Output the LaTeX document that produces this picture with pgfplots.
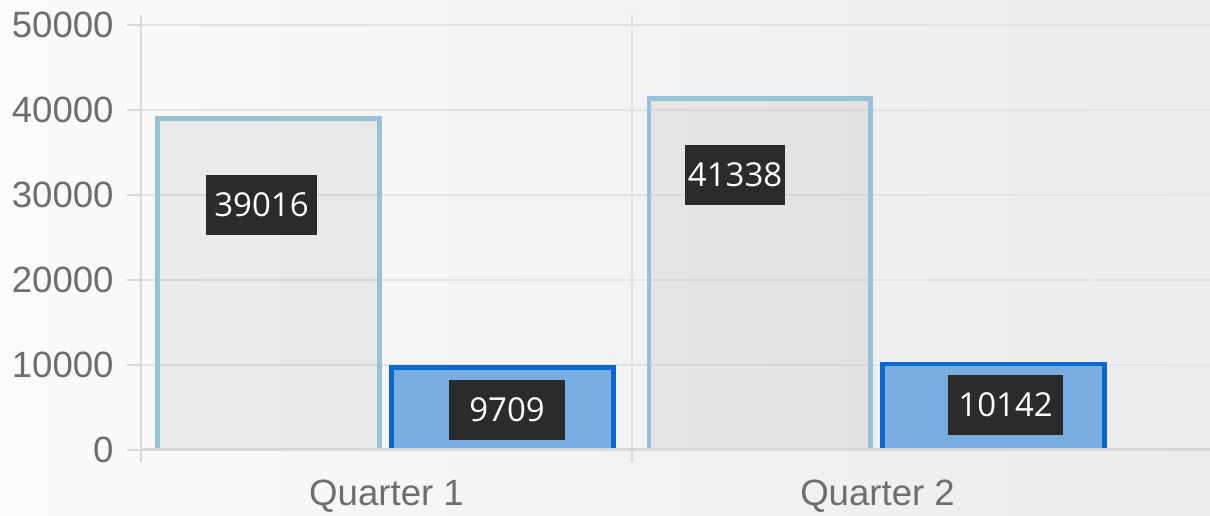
\documentclass[border=0pt]{standalone}
\usepackage{pgfplots}
\pgfplotsset{compat=1.18}
\usepackage{fontspec}
\setmainfont{Liberation Sans}
\newfontfamily\lblfont{Open Sans}
\definecolor{tickgray}{HTML}{6E6E6E}
\definecolor{axisgray}{HTML}{D8D8D8}
\definecolor{gridgray}{HTML}{E3E3E3}
\definecolor{bgL}{HTML}{FBFBFB}
\definecolor{bgR}{HTML}{ECECEC}
\definecolor{soneedge}{HTML}{9AC2D6}
\definecolor{stwofill}{HTML}{79ADE2}
\definecolor{stwoedge}{HTML}{0A67D0}
\definecolor{boxc}{HTML}{2B2B2B}
\begin{document}
\begin{tikzpicture}
\shade[left color=bgL, right color=bgR] (0,0) rectangle (605pt,257.5pt);
\path[use as bounding box] (0,0) rectangle (605pt,257.5pt);
\begin{axis}[
  at={(70.5pt,32.5pt)}, anchor=south west,
  scale only axis, width=534.5pt, height=217.5pt,
  xmin=-0.5, xmax=1.677, ymin=0, ymax=51176,
  axis x line*=bottom, axis y line*=left,
  axis line style={draw=axisgray, line width=1pt, -},
  xtick={0,1}, xticklabels={Quarter 1, Quarter 2},
  minor xtick={-0.5,0.5},
  ytick={0,10000,20000,30000,40000,50000},
  ymajorgrids, xminorgrids,
  major grid style={draw=gridgray, line width=1.2pt},
  minor grid style={draw=gridgray, line width=1.2pt},
  major x tick style={draw=none},
  tick style={draw=axisgray, line width=1pt},
  major tick length=7pt, minor tick length=6pt, tick align=outside,
  scaled y ticks=false,
  yticklabel style={/pgf/number format/fixed, /pgf/number format/1000 sep={}, anchor=east, inner sep=0pt, xshift=-6.5pt},
  xticklabel style={anchor=north, inner sep=0pt, yshift=-8pt},
  /pgf/number format/assume math mode=true,
  ticklabel style={font=\fontsize{18.3}{20}\selectfont, text=tickgray},
  clip mode=individual,
]
\addplot[ybar, bar width=0.452, bar shift=-0.24, fill=black, fill opacity=0.055, draw=soneedge, draw opacity=1, line width=2.2pt] coordinates {(0,39016) (1,41338)};
\addplot[ybar, bar width=0.452, bar shift=0.236, fill=stwofill, draw=stwoedge, line width=2.2pt] coordinates {(0,9709) (1,10142)};
\draw[axisgray, line width=1.6pt] ([yshift=0.3pt]axis cs:-0.5,0) -- ([yshift=0.3pt]axis cs:1.677,0);
\tikzset{lbl/.style={fill=boxc, text=white, font=\lblfont\fontsize{16.5}{17}\selectfont, minimum height=30pt, inner sep=0pt}}
\node[lbl, minimum width=55.5pt] at (axis cs:-0.2546,28824) {39016};
\node[lbl, minimum width=58pt] at (axis cs:0.2454,4706) {9709};
\node[lbl, minimum width=50pt] at (axis cs:0.7098,32353) {41338};
\node[lbl, minimum width=57.5pt] at (axis cs:1.2607,5294) {10142};
\end{axis}
\end{tikzpicture}
\end{document}
